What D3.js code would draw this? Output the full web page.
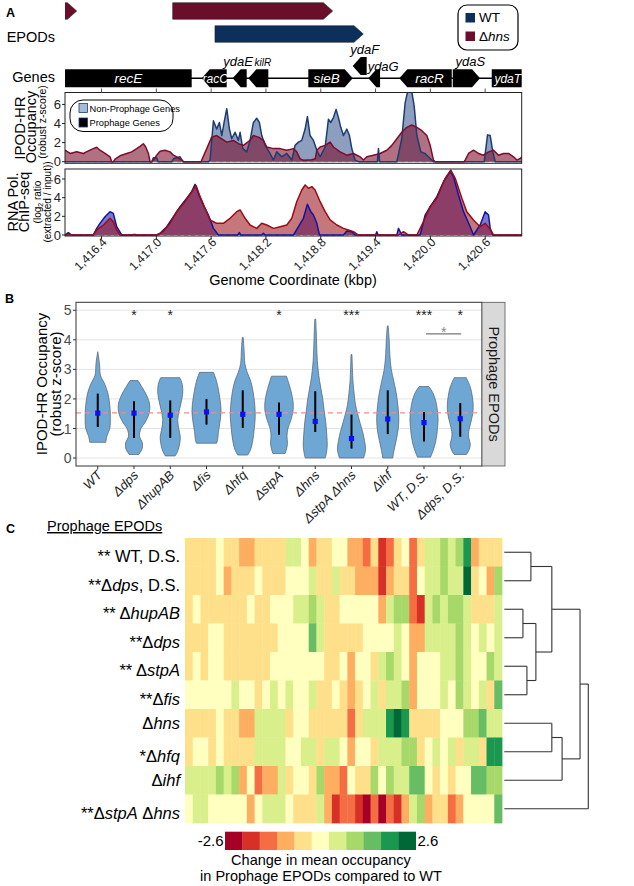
<!DOCTYPE html>
<html><head><meta charset="utf-8">
<script src="https://cdn.jsdelivr.net/npm/d3@7"></script>
<style>body{margin:0;background:#fff}svg{display:block}</style>
</head><body><svg id="c" width="634" height="886"></svg>
<script>
// ================= DATA =================
// Panel A
const epodStrains = ["WT", "Δ<i>hns</i>"];
const epods = [
  {strain: "Δ<i>hns</i>", start: 1415.95, end: 1416.128},
  {strain: "Δ<i>hns</i>", start: 1417.179, end: 1418.931},
  {strain: "WT", start: 1417.642, end: 1419.266}
];
const genes = [
  {name:"recE", start:1415.9,  end:1417.387, strand:-1, lane:0, label:"in"},
  {name:"racC", start:1417.497, end:1417.770, strand:-1, lane:0, label:"in"},
  {name:"ydaE", start:1417.836, end:1417.989, strand:-1, lane:0, label:"above"},
  {name:"kilR", start:1418.007, end:1418.226, strand:-1, lane:0, label:"above"},
  {name:"sieB", start:1418.664, end:1419.150, strand:1,  lane:0, label:"in"},
  {name:"ydaF", start:1419.150, end:1419.303, strand:-1, lane:1, label:"above"},
  {name:"ydaG", start:1419.321, end:1419.449, strand:-1, lane:0, label:"above"},
  {name:"racR", start:1419.660, end:1420.234, strand:-1, lane:0, label:"in"},
  {name:"ydaS", start:1420.245, end:1420.544, strand:1,  lane:0, label:"above"},
  {name:"ydaT", start:1420.672, end:1421.2,   strand:1,  lane:0, label:"in"}
];
const coordDomain = [1416.0, 1421.0];
const coordTicks = [1416.4, 1417.0, 1417.6, 1418.2, 1418.8, 1419.4, 1420.0, 1420.6];
const trackTicks = [0, 2, 4, 6];
const trackLegend = ["Non-Prophage Genes", "Prophage Genes"];

const ipodHns = [[1416.000,1.2],[1416.055,0.86],[1416.128,1.03],[1416.201,0.86],[1416.256,1.13],[1416.310,1.37],[1416.347,1.51],[1416.383,1.2],[1416.438,0.86],[1416.493,0.51],[1416.511,0],
[1416.530,0],[1416.548,0.27],[1416.602,0.62],[1416.675,0.86],[1416.730,1.03],[1416.785,1.37],[1416.821,1.61],[1416.858,1.88],[1416.884,1.54],[1416.913,0.86],[1416.931,0],
[1416.950,0],[1416.967,0.17],[1417.004,0.68],[1417.041,1.1],[1417.095,1.2],[1417.150,1.03],[1417.187,0.68],[1417.223,0.51],[1417.278,0.17],[1417.296,0],
[1417.490,0],[1417.497,0.17],[1417.552,1.37],[1417.606,2.57],[1417.661,2.74],[1417.716,2.4],[1417.771,2.05],[1417.844,2.23],[1417.898,1.88],[1417.953,1.71],[1418.026,2.23],[1418.063,2.74],[1418.118,2.57],[1418.172,2.23],[1418.209,1.54],[1418.282,1.37],[1418.355,1.37],[1418.428,1.2],[1418.501,1.37],[1418.537,1.03],[1418.574,0.3],[1418.610,0.15],[1418.700,0.2],[1418.740,0.3],
[1418.757,1.2],[1418.793,1.54],[1418.848,1.71],[1418.903,2.05],[1418.939,1.54],[1419.012,1.03],[1419.085,0.68],[1419.158,0.86],[1419.231,0.51],[1419.268,0.17],[1419.304,0.51],[1419.377,0.68],[1419.450,0.86],[1419.523,1.2],[1419.578,1.71],[1419.633,2.4],[1419.687,3.08],[1419.742,3.6],[1419.797,3.84],[1419.852,3.6],[1419.907,3.25],[1419.961,2.74],[1419.998,1.71],[1420.034,0.17],[1420.053,0],
[1420.370,0],[1420.381,0.17],[1420.418,0.86],[1420.472,1.2],[1420.527,0.86],[1420.582,0.68],[1420.637,1.03],[1420.692,1.2],[1420.746,0.68],[1420.801,0.86],[1420.856,0.86],[1420.911,0.51],[1420.947,0.17],[1420.984,0.34],[1421.002,0.51]];

const ipodWT = [[1416.000,0],[1416.950,0],[1416.967,0.41],[1417.004,0.41],[1417.020,0],
[1417.170,0],[1417.187,0.3],[1417.260,0.51],[1417.278,0.2],[1417.296,0],
[1417.570,0],[1417.588,0.17],[1417.625,4.28],[1417.661,3.42],[1417.690,4.11],[1417.716,2.74],[1417.742,4.11],[1417.771,5.55],[1417.800,3.42],[1417.825,2.4],[1417.862,3.08],[1417.898,2.23],[1417.917,3.08],[1417.946,1.37],[1417.990,1.03],[1418.026,2.23],[1418.063,4.11],[1418.099,4.55],[1418.128,4.11],[1418.154,2.74],[1418.191,1.71],[1418.245,0.86],[1418.282,0.17],[1418.318,1.03],[1418.373,0.51],[1418.428,0.86],[1418.483,0.17],[1418.519,1.71],[1418.556,2.05],[1418.592,2.23],[1418.629,3.42],[1418.654,4.73],[1418.683,2.74],[1418.720,2.23],[1418.757,1.2],[1418.793,0.51],[1418.848,1.54],[1418.884,4.45],[1418.910,4.11],[1418.939,4.62],[1418.968,5.48],[1418.994,4.62],[1419.019,3.6],[1419.049,2.74],[1419.085,3.42],[1419.114,2.74],[1419.140,1.37],[1419.176,0.17],[1419.213,0],
[1419.420,0],[1419.432,1.37],[1419.445,0],
[1419.633,0],[1419.687,2.4],[1419.724,6.16],[1419.750,7.3],[1419.797,7.3],[1419.823,5.82],[1419.852,2.74],[1419.896,1.03],[1419.943,0.86],[1419.998,0.34],[1420.034,0],
[1420.590,0],[1420.626,2.81],[1420.655,2.74],[1420.684,1.03],[1420.710,0],[1421.002,0]];

const rnapWT = [[1416.000,0],[1416.037,0.25],[1416.073,0],
[1416.310,0],[1416.347,0.71],[1416.383,1.25],[1416.438,1.96],[1416.493,2.5],[1416.529,2.32],[1416.566,0.89],[1416.621,0],
[1416.750,0],[1416.767,0.07],[1416.785,0],
[1417.004,0],[1417.041,0.18],[1417.114,0.89],[1417.187,1.96],[1417.260,3.04],[1417.333,3.93],[1417.387,4.64],[1417.424,5.43],[1417.460,4.46],[1417.515,3.21],[1417.570,2.14],[1417.625,0.71],[1417.679,0],
[1417.890,0],[1417.909,0.25],[1417.925,0],
[1418.150,0],[1418.172,0.18],[1418.190,0],
[1418.501,0],[1418.556,0.89],[1418.610,1.79],[1418.654,3.29],[1418.691,2.5],[1418.720,2.14],[1418.757,1.25],[1418.786,0],
[1419.049,0],[1419.085,0.43],[1419.140,0.36],[1419.176,0],
[1419.400,0],[1419.414,0.35],[1419.428,0],
[1419.633,0],[1419.651,0.71],[1419.687,0],
[1419.888,0],[1419.943,2.14],[1419.998,3.04],[1420.071,4.11],[1420.144,5.71],[1420.217,6.79],[1420.253,6.25],[1420.308,4.29],[1420.363,2.5],[1420.436,0.89],[1420.472,0],[1420.545,1.07],[1420.600,2.5],[1420.637,2.14],[1420.655,0.71],[1420.684,0],
[1421.002,0]];

const rnapHns = [[1416.000,0],[1416.310,0],[1416.347,0.54],[1416.420,1.07],[1416.493,1.79],[1416.529,1.43],[1416.566,0.54],[1416.602,0],
[1416.730,0],[1416.748,0.07],[1416.767,0],
[1417.004,0],[1417.077,0.36],[1417.150,1.25],[1417.223,2.5],[1417.314,3.57],[1417.387,4.64],[1417.435,5.29],[1417.479,4.11],[1417.533,2.86],[1417.588,1.61],[1417.661,1.25],[1417.734,1.25],[1417.807,1.79],[1417.880,2.5],[1417.917,2.68],[1417.972,1.79],[1418.026,1.07],[1418.099,0.71],[1418.154,1.25],[1418.209,1.07],[1418.282,0.71],[1418.355,0.89],[1418.428,1.07],[1418.483,1.79],[1418.537,3.57],[1418.592,4.82],[1418.629,5.36],[1418.665,5.0],[1418.702,5.18],[1418.738,4.82],[1418.793,3.57],[1418.848,2.5],[1418.903,1.61],[1418.976,1.07],[1419.049,0.71],[1419.103,0.54],[1419.158,0.36],[1419.213,0],
[1419.651,0],[1419.706,0.36],[1419.761,0],
[1419.852,0],[1419.925,1.43],[1419.998,3.04],[1420.071,3.93],[1420.162,6.07],[1420.224,6.96],[1420.272,6.07],[1420.345,3.93],[1420.399,2.5],[1420.472,1.61],[1420.545,0.89],[1420.600,1.25],[1420.648,0.71],[1420.692,0],
[1421.002,0]];

// Panel B
const strainsB = ["WT","Δdps","ΔhupAB","Δfis","Δhfq","ΔstpA","Δhns","ΔstpA Δhns","Δihf","WT, D.S.","Δdps, D.S."];
const violinProfiles = [
  [[3.6,0],[3.2,0.11],[2.8,0.17],[2.5,0.44],[2.2,0.63],[1.8,0.75],[1.4,0.79],[1.0,0.75],[0.75,0.58],[0.53,0.5]],
  [[2.62,0.25],[2.4,0.5],[2.1,0.81],[1.8,0.98],[1.5,0.94],[1.2,0.69],[1.0,0.44],[0.75,0.34],[0.5,0.53],[0.3,0.5],[0.12,0.29]],
  [[2.72,0.6],[2.5,0.75],[2.2,0.78],[1.9,0.69],[1.6,0.56],[1.3,0.47],[1.0,0.53],[0.7,0.63],[0.4,0.56],[0.2,0.44],[0.07,0.31]],
  [[2.9,0.44],[2.6,0.63],[2.3,0.75],[2.0,0.84],[1.6,0.91],[1.2,0.84],[0.9,0.75],[0.6,0.69],[0.5,0.63]],
  [[4.08,0.03],[3.6,0.09],[3.2,0.13],[2.9,0.28],[2.6,0.5],[2.2,0.66],[1.8,0.75],[1.4,0.78],[1.0,0.72],[0.6,0.63],[0.3,0.5],[0.1,0.31]],
  [[2.77,0.47],[2.5,0.63],[2.2,0.78],[1.9,0.88],[1.6,0.88],[1.3,0.75],[1.0,0.56],[0.75,0.5],[0.5,0.53],[0.3,0.47],[0.15,0.38]],
  [[4.7,0.03],[4.3,0.06],[3.8,0.09],[3.3,0.13],[2.8,0.22],[2.4,0.34],[2.0,0.47],[1.6,0.56],[1.2,0.66],[0.8,0.72],[0.4,0.75],[0.15,0.69],[0.0,0.63]],
  [[3.5,0.03],[3.0,0.06],[2.6,0.09],[2.2,0.16],[1.8,0.25],[1.5,0.38],[1.2,0.53],[0.9,0.69],[0.6,0.81],[0.3,0.88],[0.1,0.81],[0.0,0.75]],
  [[4.47,0.03],[4.0,0.09],[3.5,0.13],[3.0,0.22],[2.6,0.38],[2.2,0.53],[1.8,0.63],[1.4,0.69],[1.0,0.66],[0.6,0.53],[0.3,0.41],[0.0,0.31]],
  [[2.42,0.31],[2.2,0.56],[1.9,0.75],[1.6,0.84],[1.3,0.88],[1.0,0.84],[0.7,0.78],[0.4,0.66],[0.15,0.5],[0.03,0.41]],
  [[2.72,0.38],[2.4,0.63],[2.1,0.75],[1.8,0.81],[1.5,0.78],[1.2,0.66],[0.9,0.53],[0.7,0.53],[0.45,0.63],[0.25,0.53],[0.12,0.38]]
];
const medianB = [1.52,1.52,1.45,1.56,1.48,1.48,1.24,0.66,1.32,1.2,1.33];
const lowB    = [1.05,0.68,0.68,1.13,1.02,0.79,0.88,0.32,0.81,0.56,0.72];
const highB   = [2.18,1.92,1.95,2.0,2.29,1.88,2.26,1.47,2.29,1.56,1.86];
const starsB  = ["","*","*","","","*","","***","","***","*"];
const wtRefB = 1.53;
const yTicksB = [0,1,2,3,4,5];
const bracketB = {from: "WT, D.S.", to: "Δdps, D.S.", value: 4.2, label: "*"};
const stripLabel = "Prophage EPODs";

// Panel C
const hmTitle = "Prophage EPODs";
const hmLabels = ["WT, D.S.","Δ<i>dps</i>, D.S.","Δ<i>hupAB</i>","Δ<i>dps</i>","Δ<i>stpA</i>","Δ<i>fis</i>","Δ<i>hns</i>","Δ<i>hfq</i>","Δ<i>ihf</i>","Δ<i>stpA</i> Δ<i>hns</i>"];
const hmStars = ["** ","**","** ","**","** ","**","","*","","**"];
const hmValues = [
 [-0.5,-0.5,-0.5,-0.5,0,-0.5,-0.5,-0.9,-0.9,-0.5,-0.5,-0.5,-0.5,0.5,0.5,0,-0.9,-0.5,-0.5,0,0,-0.9,-0.9,-1.4,-0.5,-1.9,-1.4,-0.5,0,-1.4,-0.5,0.5,0.5,0.9,0.5,0.9,1.9,-0.9,-0.5,-0.5,-0.5],
 [-0.5,-0.5,-0.5,-0.5,0,-0.9,-0.5,-0.5,-0.5,0,-0.5,-0.5,-0.5,0,0,0,0.5,-0.5,-0.5,0.5,-0.5,-0.5,-0.9,-0.9,-0.9,-1.9,-0.9,-0.5,-0.5,-1.4,0,0.5,0.5,0.9,0.5,0.5,2.4,-0.5,0,-0.9,0.9],
 [-0.5,0,-0.5,-0.5,-0.5,-0.5,-0.5,-0.5,0,-0.5,-0.5,0,0,0,0.5,0.5,0.9,0.5,-0.5,-0.5,0,0,0,0,0,-0.9,0.5,0.9,0.9,-1.4,-1.9,0.5,0.9,0.5,0.9,0.9,0.5,-0.5,-0.5,-0.5,0.5],
 [-0.5,-0.5,-0.5,0,0,-0.5,-0.5,-0.5,-0.5,-0.5,-0.5,-0.5,0,0,0,0,1.4,0.5,-0.5,-0.5,-0.5,-0.5,-0.5,0,0,0,0,0.5,0,-0.9,-0.9,0.5,0.5,0.5,0.5,0.9,0.5,0,0.5,0,0.5],
 [-0.5,0,-0.5,0,0,-0.5,-0.5,-0.5,-0.5,-0.5,-0.5,0,0,0,0,0,0,0,-0.5,-0.5,0,-0.9,0,0,-0.5,0.5,0.9,0.5,0,-0.9,0,0,0,0.5,0.5,0.9,0.5,0,0,0.9,0.5],
 [0,0,0,0,0,0,0.5,0,0,-0.5,0,0.5,0,0.5,0,0,0.5,-0.5,-0.5,0,-0.5,-0.9,-0.5,0,0.5,-0.5,0.5,0.5,0.9,-0.9,0,0,0,0.5,0,0.9,0.5,0,0.5,-0.5,1.4],
 [-0.5,-0.5,-0.5,-0.5,0,-0.5,-0.5,-0.9,-0.9,0.5,0.5,0.5,0.5,-0.5,0,0,-0.5,-0.5,-0.5,-0.5,-0.5,-1.4,-0.5,0.5,0.5,0.5,1.9,2.4,1.9,-0.5,-0.5,-0.5,-0.5,0,0,0,0.9,0.9,1.4,0.5,0.5],
 [-0.5,0,0,-0.5,0,-0.5,-0.5,-0.5,-0.5,0.5,0.5,0.5,0.5,0,0,0.5,0.5,-0.5,0.5,0.5,0,-0.9,0,0,-0.5,0.5,0.5,0.5,0.9,0.9,-0.5,0,0.5,0,0.5,-0.5,0.5,0.5,-0.5,1.9,1.9],
 [0.5,0.5,0.5,0.5,0.9,0.5,0.9,-0.9,0,-1.4,-0.9,-0.9,0.5,-0.5,0,0,-0.5,0.9,-0.9,-0.9,-1.4,0,-0.5,-0.5,0.9,0,0.9,0.5,0.5,1.4,1.4,0,-0.5,0,-0.5,0,0,1.4,1.4,0.9,0.9],
 [0,0.5,0.5,0,0,0,0,0,-0.9,0,0.5,0.5,0.5,0,-0.5,-0.5,-0.5,0.5,-0.9,-1.9,-1.4,-1.4,-1.9,-2.4,-1.4,-2.4,-1.4,-1.9,-0.9,0.5,0.9,-0.9,-0.5,-0.5,-1.4,-0.9,0,0,0,0,1.4]
];
const hmDomain = [-2.6, 2.6];
const hmLegendTitle = ["Change in mean occupancy", "in Prophage EPODs compared to WT"];
const dendro = {h: 8.43, children: [
  {h: 7.6, children: [
    {h: 4.77, children: [
      {h: 2.67, children: [{leaf: 0}, {leaf: 1}]},
      {h: 3.17, children: [
        {h: 1.87, children: [{leaf: 2}, {leaf: 3}]},
        {h: 2.27, children: [{leaf: 4}, {leaf: 5}]}]}]},
    {h: 5.8, children: [
      {h: 4.77, children: [{leaf: 6}, {leaf: 7}]},
      {leaf: 8}]}]},
  {leaf: 9}]};

// ================= DRAWING =================
const FONT = '"Liberation Sans", Arial, Helvetica, sans-serif';
const svg = d3.select("#c").attr("font-family", FONT);

function rich(sel, markup) {
  markup.split(/(<i>.*?<\/i>)/).filter(s => s.length).forEach(p => {
    const it = p.startsWith("<i>");
    sel.append("tspan").text(it ? p.slice(3, -4) : p).attr("font-style", it ? "italic" : null);
  });
  return sel;
}
function panelLabel(t, x, y) {
  svg.append("text").attr("x", x).attr("y", y).attr("font-size", 12.5).attr("font-weight", "bold").text(t);
}

// ---------- Panel A ----------
panelLabel("A", 6, 17);
const xA = d3.scaleLinear().domain(coordDomain).range([65, 521.7]);
const defs = svg.append("defs");
defs.append("clipPath").attr("id", "clipA").append("rect").attr("x", 65).attr("y", 0).attr("width", 456.7).attr("height", 100);
defs.append("clipPath").attr("id", "clipI").append("rect").attr("x", 65).attr("y", 92.5).attr("width", 456.7).attr("height", 70.8);
defs.append("clipPath").attr("id", "clipR").append("rect").attr("x", 65).attr("y", 169).attr("width", 456.7).attr("height", 67);

function arrowPts(x0, x1, yc, h, dir, head) {
  const hl = Math.min(head, x1 - x0);
  if (dir > 0) return [[x0, yc - h/2], [x1 - hl, yc - h/2], [x1, yc], [x1 - hl, yc + h/2], [x0, yc + h/2]];
  return [[x1, yc - h/2], [x0 + hl, yc - h/2], [x0, yc], [x0 + hl, yc + h/2], [x1, yc + h/2]];
}
const epodColor = d3.scaleOrdinal().domain(epodStrains).range(["#0c2f5c", "#6b0e2c"]);
const epodRowY = d3.scalePoint().domain(["Δ<i>hns</i>", "WT"]).range([11, 34]);
const gA = svg.append("g").attr("clip-path", "url(#clipA)");
gA.selectAll("path.epod").data(epods).join("path")
  .attr("d", d => "M" + arrowPts(xA(d.start), xA(d.end), epodRowY(d.strain), 16.5, 1, 9.3).join("L") + "Z")
  .attr("fill", d => epodColor(d.strain)).attr("stroke", "#222").attr("stroke-width", 0.6);

svg.append("text").attr("x", 55).attr("y", 41.5).attr("text-anchor", "end").attr("font-size", 14.5).text("EPODs");
svg.append("text").attr("x", 55).attr("y", 82).attr("text-anchor", "end").attr("font-size", 14.5).text("Genes");

// legend (A)
svg.append("rect").attr("x", 458).attr("y", 5).attr("width", 60).attr("height", 45).attr("rx", 9)
  .attr("fill", "#fff").attr("stroke", "#000").attr("stroke-width", 1.2);
epodStrains.forEach((s, i) => {
  svg.append("rect").attr("x", 465.5).attr("y", 13 + i * 18.5).attr("width", 9.5).attr("height", 9.5).attr("fill", epodColor(s));
  rich(svg.append("text").attr("x", 479).attr("y", 22 + i * 18.5).attr("font-size", 13.5), s);
});

// genes
const laneY = d3.scaleOrdinal().domain([0, 1]).range([78.3, 65.9]);
gA.append("line").attr("x1", 65).attr("x2", 521.7).attr("y1", 78.3).attr("y2", 78.3).attr("stroke", "#000").attr("stroke-width", 1.6);
gA.selectAll("path.gene").data(genes).join("path")
  .attr("d", d => "M" + arrowPts(xA(d.start), xA(d.end), laneY(d.lane), 18, d.strand, 8).join("L") + "Z")
  .attr("fill", "#000");
const labelNudge = {ydaE: -1.5, kilR: 4.5, ydaF: 5, ydaG: 9, ydaS: 4};
genes.forEach(d => {
  const x0 = Math.max(xA(d.start), 65), x1 = Math.min(xA(d.end), 521.7);
  if (d.label === "in") {
    let cx = (x0 + x1) / 2;
    const small = (x1 - x0) < 40;
    if (!small && d.strand < 0 && xA(d.start) >= 65) cx = (x0 + 8 + x1) / 2;
    if (!small && d.strand > 0 && xA(d.end) <= 521.7) cx = (x0 + x1 - 8) / 2;
    svg.append("text").attr("x", cx + (small ? 1 : 0)).attr("y", laneY(d.lane) + 4.8).attr("text-anchor", "middle")
      .attr("font-size", small ? 12 : 13.5).attr("font-style", "italic").attr("fill", "#fff").text(d.name);
  } else {
    const cx = (x0 + x1) / 2 + (labelNudge[d.name] || 0);
    const top = laneY(d.lane) - 9;
    svg.append("text").attr("x", cx).attr("y", top - (d.name === "ydaG" ? -1.5 : 3)).attr("text-anchor", "middle")
      .attr("font-size", d.name === "kilR" ? 10 : 13).attr("font-style", "italic").attr("fill", "#000").text(d.name);
  }
});

// tracks
const yI = d3.scaleLinear().domain([-0.17, 7.25]).range([163.3, 92.5]);
const yR = d3.scaleLinear().domain([-0.107, 7.07]).range([236, 169]);
function drawTrack(y, clip, series, top, bottom) {
  const g = svg.append("g");
  const gc = g.append("g").attr("clip-path", clip);
  series.forEach(s => {
    gc.append("path").attr("d", d3.area().x(d => xA(d[0])).y0(y(0)).y1(d => y(d[1]))(s.data)).attr("fill", s.fill);
  });
  gc.append("line").attr("x1", 65).attr("x2", 521.7).attr("y1", y(0)).attr("y2", y(0))
    .attr("stroke", "#666").attr("stroke-width", 0.8).attr("stroke-dasharray", "4,3");
  series.forEach(s => {
    gc.append("path").attr("d", d3.line().x(d => xA(d[0])).y(d => y(d[1]))(s.data))
      .attr("fill", "none").attr("stroke", s.stroke).attr("stroke-width", 1.5).attr("stroke-linejoin", "round");
  });
  g.append("rect").attr("x", 65).attr("y", top).attr("width", 456.7).attr("height", bottom - top)
    .attr("fill", "none").attr("stroke", "#222").attr("stroke-width", 1);
  trackTicks.forEach(t => {
    g.append("line").attr("x1", 62).attr("x2", 65).attr("y1", y(t)).attr("y2", y(t)).attr("stroke", "#222");
    g.append("text").attr("x", 61).attr("y", y(t)).attr("dy", "0.36em").attr("text-anchor", "end")
      .attr("font-size", 13).attr("fill", "#222").text(t);
  });
  return g;
}
drawTrack(yI, "url(#clipI)", [
  {data: ipodWT, fill: "rgba(30,62,125,0.5)", stroke: "#1b3d73"},
  {data: ipodHns, fill: "rgba(120,10,40,0.58)", stroke: "#7d0c2e"}
], 92.5, 163.3);
drawTrack(yR, "url(#clipR)", [
  {data: rnapWT, fill: "rgba(30,30,175,0.6)", stroke: "#1414a0"},
  {data: rnapHns, fill: "rgba(155,20,30,0.58)", stroke: "#9b0d14"}
], 169, 236);
// top ticks above IPOD panel
coordTicks.forEach(t => {
  svg.append("line").attr("x1", xA(t)).attr("x2", xA(t)).attr("y1", 92.5).attr("y2", 88.5).attr("stroke", "#555");
});
// x-axis (bottom)
const fmtK = d3.format(",.1f");
coordTicks.forEach(t => {
  svg.append("line").attr("x1", xA(t)).attr("x2", xA(t)).attr("y1", 236).attr("y2", 239).attr("stroke", "#222");
  svg.append("text").attr("transform", `translate(${xA(t) + 6},${243}) rotate(-45)`)
    .attr("text-anchor", "end").attr("font-size", 12).attr("fill", "#222").text(fmtK(t));
});
svg.append("text").attr("x", 293).attr("y", 285).attr("text-anchor", "middle").attr("font-size", 14.5).text("Genome Coordinate (kbp)");

// inner legend
svg.append("rect").attr("x", 70).attr("y", 100).attr("width", 103).attr("height", 31.5).attr("rx", 13)
  .attr("fill", "#fff").attr("stroke", "#000").attr("stroke-width", 1);
const legFill = ["#a7bbd9", "#000"];
trackLegend.forEach((t, i) => {
  svg.append("rect").attr("x", 79).attr("y", 103.5 + i * 14.5).attr("width", 8.5).attr("height", 9)
    .attr("fill", legFill[i]).attr("stroke", "#1b3d73").attr("stroke-width", 0.8);
  svg.append("text").attr("x", 89.5).attr("y", 111.5 + i * 14.5).attr("font-size", 9.3).text(t);
});

// y titles A
function vtext(x, y, size, txt) {
  return svg.append("text").attr("transform", `translate(${x},${y}) rotate(-90)`).attr("text-anchor", "middle").attr("font-size", size).text(txt);
}
vtext(25, 128, 15, "IPOD-HR");
vtext(35.5, 127, 14.5, "Occupancy");
vtext(46, 122, 10.5, "(robust z-score)");
vtext(18, 202, 14.5, "RNA Pol.");
vtext(29, 202, 14.5, "ChIP-seq");
const lg = svg.append("text").attr("transform", `translate(40.5,202) rotate(-90)`).attr("text-anchor", "middle").attr("font-size", 10);
lg.append("tspan").text("(log");
lg.append("tspan").text("2").attr("font-size", 7).attr("dy", 2.5);
lg.append("tspan").text(" ratio").attr("dy", -2.5);
vtext(50.5, 202, 10, "(extracted / input))");

// ---------- Panel B ----------
panelLabel("B", 5, 303);
const yB = d3.scaleLinear().domain([-0.27, 5.27]).range([466, 302.3]);
const xB = d3.scalePoint().domain(strainsB).range([76, 482]).padding(0.6);
const wB = d3.scaleLinear().domain([0, 1]).range([0, 16]);
const gB = svg.append("g");
yTicksB.forEach(t => {
  gB.append("line").attr("x1", 76).attr("x2", 482).attr("y1", yB(t)).attr("y2", yB(t)).attr("stroke", "#e4e4e4").attr("stroke-width", 1);
});
violinProfiles.forEach((prof, i) => {
  const cx = xB(strainsB[i]);
  const a = d3.area().curve(d3.curveCatmullRom.alpha(0.5)).y(d => yB(d[0])).x0(d => cx - wB(d[1])).x1(d => cx + wB(d[1]));
  gB.append("path").attr("d", a(prof)).attr("fill", "#6fa7d4").attr("stroke", "#4f5f70").attr("stroke-width", 0.7);
});
gB.append("line").attr("x1", 76).attr("x2", 482).attr("y1", yB(wtRefB)).attr("y2", yB(wtRefB))
  .attr("stroke", "#f48a8a").attr("stroke-width", 1.2).attr("stroke-dasharray", "5,4");
strainsB.forEach((s, i) => {
  const cx = xB(s);
  gB.append("line").attr("x1", cx).attr("x2", cx).attr("y1", yB(lowB[i])).attr("y2", yB(highB[i])).attr("stroke", "#000").attr("stroke-width", 2);
  gB.append("rect").attr("x", cx - 2.6).attr("y", yB(medianB[i]) - 2.6).attr("width", 5.2).attr("height", 5.2).attr("fill", "#0a14f0");
  if (starsB[i]) gB.append("text").attr("x", cx).attr("y", yB(5) + 9.5).attr("text-anchor", "middle").attr("font-size", 14).attr("fill", "#222").text(starsB[i]);
});
gB.append("line").attr("x1", xB(bracketB.from) + 2).attr("x2", xB(bracketB.to) + 1).attr("y1", yB(bracketB.value)).attr("y2", yB(bracketB.value))
  .attr("stroke", "#777").attr("stroke-width", 1.2);
gB.append("text").attr("x", (xB(bracketB.from) + xB(bracketB.to)) / 2 + 1.5).attr("y", yB(bracketB.value) + 3.5).attr("text-anchor", "middle")
  .attr("font-size", 14).attr("fill", "#888").text(bracketB.label);
gB.append("rect").attr("x", 76).attr("y", 302.3).attr("width", 406).attr("height", 163.7).attr("fill", "none").attr("stroke", "#333").attr("stroke-width", 1);
yTicksB.forEach(t => {
  gB.append("line").attr("x1", 73).attr("x2", 76).attr("y1", yB(t)).attr("y2", yB(t)).attr("stroke", "#333");
  gB.append("text").attr("x", 71.5).attr("y", yB(t)).attr("dy", "0.36em").attr("text-anchor", "end").attr("font-size", 14).attr("fill", "#4d4d4d").text(t);
});
strainsB.forEach(s => {
  gB.append("line").attr("x1", xB(s)).attr("x2", xB(s)).attr("y1", 466).attr("y2", 469).attr("stroke", "#333");
  gB.append("text").attr("transform", `translate(${xB(s) + 5},${476}) rotate(-45)`).attr("text-anchor", "end")
    .attr("font-size", 13).attr("font-style", "italic").attr("fill", "#222").text(s);
});
// strip
gB.append("rect").attr("x", 482).attr("y", 302.3).attr("width", 23).attr("height", 163.7).attr("fill", "#d9d9d9").attr("stroke", "#555").attr("stroke-width", 0.8);
gB.append("text").attr("transform", `translate(489,384) rotate(90)`).attr("text-anchor", "middle").attr("font-size", 14.5).attr("fill", "#1a1a1a").text(stripLabel);
vtext(47, 384, 15, "IPOD-HR Occupancy");
vtext(61, 384, 15, "(robust z-score)");

// ---------- Panel C ----------
panelLabel("C", 6, 533);
svg.append("text").attr("x", 47).attr("y", 531).attr("font-size", 14.5).attr("text-decoration", "underline").text(hmTitle);
const nCols = hmValues[0].length;
const xC = d3.scaleBand().domain(d3.range(nCols)).range([185, 502]);
const yC = d3.scaleBand().domain(d3.range(hmValues.length)).range([538, 823]);
const colorC = d3.scaleQuantize().domain(hmDomain).range(d3.schemeRdYlGn[11]);
const gC = svg.append("g");
hmValues.forEach((row, r) => {
  gC.selectAll(null).data(row).join("rect")
    .attr("x", (d, c) => xC(c)).attr("y", yC(r)).attr("width", xC.bandwidth() + 0.4).attr("height", yC.bandwidth() + 0.4)
    .attr("fill", d => colorC(d));
});
hmLabels.forEach((lab, r) => {
  const t = svg.append("text").attr("x", 180).attr("y", yC(r) + yC.bandwidth() / 2 + 6).attr("text-anchor", "end").attr("font-size", 16.5);
  if (hmStars[r]) {
    t.append("tspan").text(hmStars[r]).attr("dy", 4);
    t.append("tspan").text("").attr("dy", -4);
  }
  rich(t, lab);
});
// dendrogram
const hx = d3.scaleLinear().domain([0, 8.43]).range([504.3, 588.3]);
const root = d3.hierarchy(dendro);
root.eachAfter(n => {
  if (!n.children) { n.py = yC(n.data.leaf) + yC.bandwidth() / 2; n.px = hx(0); }
  else { n.py = d3.mean(n.children, c => c.py); n.px = hx(n.data.h); }
});
const gD = svg.append("g").attr("stroke", "#333").attr("stroke-width", 1.1).attr("fill", "none");
root.each(n => {
  if (!n.children) return;
  gD.append("line").attr("x1", n.px).attr("x2", n.px).attr("y1", d3.min(n.children, c => c.py)).attr("y2", d3.max(n.children, c => c.py));
  n.children.forEach(c => gD.append("line").attr("x1", c.px).attr("x2", n.px).attr("y1", c.py).attr("y2", c.py));
});
// color legend
const lgX = d3.scaleBand().domain(d3.range(11)).range([225, 415.7]);
d3.schemeRdYlGn[11].forEach((col, i) => {
  svg.append("rect").attr("x", lgX(i)).attr("y", 831.7).attr("width", lgX.bandwidth() + 0.3).attr("height", 18.3).attr("fill", col);
});
svg.append("text").attr("x", 223.5).attr("y", 846).attr("text-anchor", "end").attr("font-size", 15).text(hmDomain[0]);
svg.append("text").attr("x", 417.5).attr("y", 846).attr("font-size", 15).text(hmDomain[1]);
hmLegendTitle.forEach((t, i) => {
  svg.append("text").attr("x", 321).attr("y", 865 + i * 15.5).attr("text-anchor", "middle").attr("font-size", 14.5).text(t);
});
</script></body></html>
